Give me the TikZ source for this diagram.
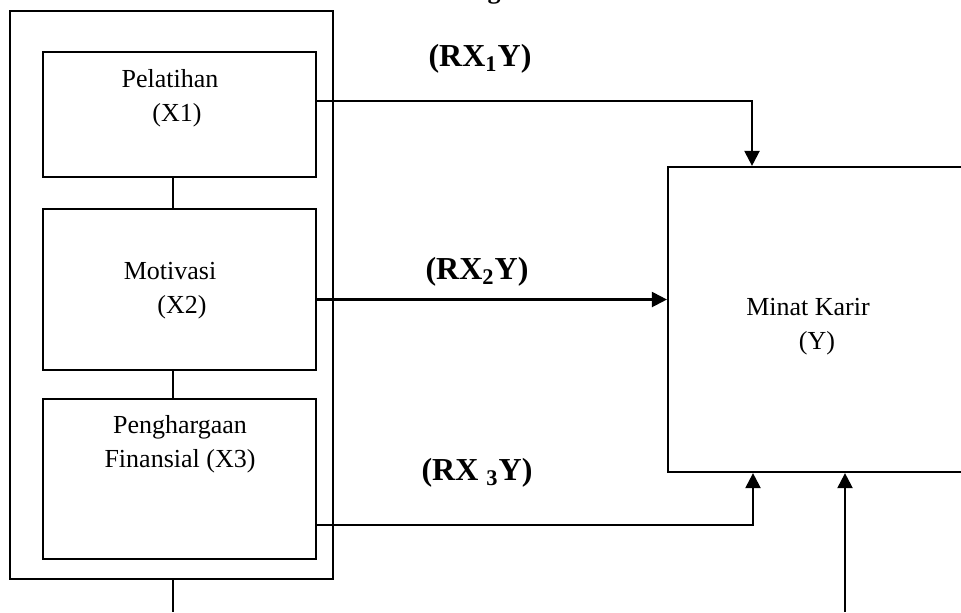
\documentclass[tikz,border=0pt]{standalone}
\usepackage{fontspec}
\setmainfont{Liberation Serif}
\usetikzlibrary{arrows.meta}

\begin{document}
\begin{tikzpicture}[
        x=0.5pt,
        y=-0.5pt,
        line width=1.1pt,
        every node/.style={font=\fontsize{13}{17}\selectfont},
        varbox/.style={
            draw,
            minimum width=136.5pt,
            inner sep=0pt
        },
        boxtext/.style={
            align=center,
            inner sep=0pt
        },
        pathlabel/.style={
            font=\fontsize{16}{19}\selectfont\bfseries,
            inner sep=0pt
        },
        link/.style={-{Triangle[length=7.5pt,width=7.5pt]}}
    ]
        \useasboundingbox (0,0) rectangle (961,612);

        % Cut-off title line above the picture
        \node[font=\fontsize{13}{15}\selectfont\bfseries, anchor=base, inner sep=0pt]
            (titlecut) at (494,-2) {g};

        % Frame round the three X variables
        \node[draw, minimum width=161.5pt, minimum height=284pt, inner sep=0pt]
            (frame) at (171.5,295) {};

        % X variables: boxes at x=43,...,316
        \node[varbox, minimum height=62.5pt] (pelatihan) at (179.5,114.5) {};
        \node[varbox, minimum height=80.5pt] (motivasi) at (179.5,289.5) {};
        \node[varbox, minimum height=80pt] (finansial) at (179.5,479) {};

        \node[boxtext] (pelatihantext) at (170,98)
            {Pelatihan\\\hspace*{7pt}(X1)};
        \node[boxtext] (motivasitext) at (170,291)
            {Motivasi\\\hspace*{12pt}(X2)};
        \node[boxtext] (finansialtext) at (180,444.5)
            {Penghargaan\\Finansial (X3)};

        % Y variable, running past the right edge
        \node[draw, minimum width=166pt, minimum height=152.5pt, inner sep=0pt]
            (minat) at (834,319.5) {};
        \node[boxtext] (minattext) at (808,326.5)
            {Minat Karir\\\hspace*{9pt}(Y)};

        % Vertical line through the X boxes
        \coordinate (spine) at (173,0);
        \coordinate (frameout) at (173,612);
        \draw (pelatihan.south -| spine) -- (motivasi.north -| spine);
        \draw (motivasi.south -| spine) -- (finansial.north -| spine);
        \draw (frame.south -| spine) -- (frameout);

        % Paths into Y
        \coordinate (dropone) at (752,0);
        \coordinate (risethree) at (753,0);
        \coordinate (yin) at (845,612);

        \draw[link] ([yshift=6.8pt]pelatihan.east) -| (dropone |- minat.north);
        \draw[link] ([yshift=-5pt]motivasi.east) coordinate (twoout)
            -- (twoout -| minat.west);
        \draw[link] ([yshift=-23pt]finansial.east) -| (risethree |- minat.south);
        \draw[link] (yin) -- (yin |- minat.south);

        \node[pathlabel] (rxone) at (480,59) {(RX\textsubscript{1}Y)};
        \node[pathlabel] (rxtwo) at (477,272) {(RX\textsubscript{2}Y)};
        \node[pathlabel] (rxthree) at (477,473) {(RX \textsubscript{3}Y)};
    \end{tikzpicture}
\end{document}
